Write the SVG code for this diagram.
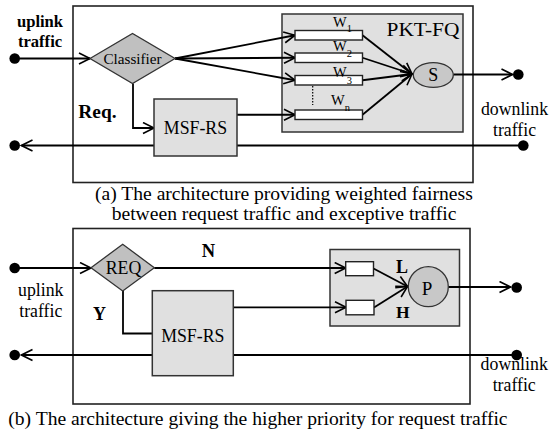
<svg xmlns="http://www.w3.org/2000/svg" width="550" height="434" viewBox="0 0 550 434">
  <style>
    text { font-family: "Liberation Serif", "Times New Roman", serif; fill: #000; }
    .frame { fill: #fff; stroke: #222; stroke-width: 1.6; }
    .panel { fill: #e0e0e0; stroke: #333; stroke-width: 1.5; }
    .block { fill: #e0e0e0; stroke: #333; stroke-width: 1.5; }
    .decide { fill: #c0c0c0; stroke: #333; stroke-width: 1.3; }
    .sched { fill: #c8c8c8; stroke: #333; stroke-width: 1.3; }
    .queue { fill: #fff; stroke: #222; stroke-width: 1.4; }
    .wire { fill: none; stroke: #000; stroke-width: 1.8; }
    .arr { marker-end: url(#arrow); }
    .dot { fill: #000; }
    .lbl { font-size: 17.8px; text-anchor: middle; }
    .bold { font-weight: bold; }
    .cap { font-size: 19.6px; }
    .w { font-size: 14.5px; }
    .sub { font-size: 10.5px; }
  </style>
  <defs>
    <marker id="arrow" viewBox="0 0 14 14" markerWidth="14" markerHeight="14" refX="12" refY="6.5" orient="auto" markerUnits="userSpaceOnUse">
      <path d="M1,1 L12,6.5 L1,12" fill="none" stroke="#000" stroke-width="1.6"/>
    </marker>
  </defs>

  <!-- (a) weighted fair queueing architecture -->
  <g id="frame-a">
    <rect class="frame" x="73" y="6" width="400" height="176.5"/>
  </g>
  <g id="pkt-fq">
    <rect class="panel" x="282" y="14" width="181" height="118"/>
    <text x="423" y="36" font-size="19.5" text-anchor="middle" textLength="73" lengthAdjust="spacingAndGlyphs">PKT-FQ</text>
  </g>

  <!-- (b) strict priority architecture -->
  <g id="frame-b">
    <rect class="frame" x="73" y="228.5" width="397" height="175.5"/>
  </g>
  <g id="priority-box">
    <rect class="panel" x="330" y="249.5" width="129.5" height="76.5"/>
  </g>

  <g id="connectors">
    <!-- (a) -->
    <line class="wire arr" x1="14.7" y1="58.5" x2="90" y2="58.5"/>
    <line class="wire arr" x1="175" y1="58.5" x2="295" y2="35.25"/>
    <line class="wire arr" x1="175" y1="58.5" x2="295" y2="57.75"/>
    <line class="wire arr" x1="175" y1="58.5" x2="295" y2="80.25"/>
    <path class="wire arr" d="M133,83.5 V128 H154"/>
    <line class="wire arr" x1="237" y1="114.75" x2="295" y2="114.75"/>
    <line class="wire arr" x1="362.5" y1="35.25" x2="412" y2="74"/>
    <line class="wire arr" x1="362.5" y1="57.75" x2="412" y2="74"/>
    <line class="wire arr" x1="362.5" y1="80.25" x2="412" y2="74"/>
    <line class="wire arr" x1="362.5" y1="114.75" x2="412" y2="74"/>
    <line class="wire arr" x1="453.3" y1="74.5" x2="512.5" y2="74.5"/>
    <line class="wire arr" x1="154" y1="145.5" x2="21.5" y2="145.5"/>
    <line class="wire" x1="237" y1="145.5" x2="523.3" y2="145.5"/>
    <line x1="312.7" y1="86" x2="312.7" y2="105" stroke="#000" stroke-width="1.2" stroke-dasharray="1.5,1.5"/>
    <circle class="dot" cx="14.7" cy="58.5" r="5.3"/>
    <circle class="dot" cx="14.7" cy="145.5" r="5.3"/>
    <circle class="dot" cx="518.3" cy="74.5" r="5.3"/>
    <circle class="dot" cx="523.3" cy="145.5" r="5.3"/>
    <!-- (b) -->
    <line class="wire arr" x1="14.7" y1="268" x2="91" y2="268"/>
    <line class="wire arr" x1="154.3" y1="268" x2="345.7" y2="268"/>
    <path class="wire" d="M123,291 V333.5 H152.3"/>
    <line class="wire arr" x1="233.3" y1="307.3" x2="346" y2="307.3"/>
    <line class="wire arr" x1="373.5" y1="268.5" x2="407.5" y2="286.5"/>
    <line class="wire arr" x1="374" y1="307.5" x2="407.5" y2="286.5"/>
    <line class="wire arr" x1="448.3" y1="287" x2="510.5" y2="287"/>
    <line class="wire arr" x1="152.3" y1="355" x2="21.5" y2="355"/>
    <line class="wire" x1="233.3" y1="355" x2="516.7" y2="355"/>
    <circle class="dot" cx="14.7" cy="268" r="5.3"/>
    <circle class="dot" cx="14.7" cy="355" r="5.3"/>
    <circle class="dot" cx="516.7" cy="287.5" r="5.3"/>
    <circle class="dot" cx="516.7" cy="355" r="5.3"/>
  </g>

  <!-- (a) nodes -->
  <g id="classifier">
    <polygon class="decide" points="90,58.5 132.5,33.5 175,58.5 132.5,83.5"/>
    <text x="132.5" y="64" font-size="15.2" text-anchor="middle" fill="#222">Classifier</text>
  </g>
  <g id="msf-rs-a">
    <rect class="block" x="154" y="99" width="83" height="57"/>
    <text class="lbl" x="195.5" y="133.5" font-size="18.2">MSF-RS</text>
  </g>
  <g id="queue-1">
    <rect class="queue" x="295" y="30.5" width="67.5" height="9.5"/>
    <text class="w" x="333" y="27">W<tspan class="sub" dy="5">1</tspan></text>
  </g>
  <g id="queue-2">
    <rect class="queue" x="295" y="53" width="67.5" height="9.5"/>
    <text class="w" x="333" y="51">W<tspan class="sub" dy="6">2</tspan></text>
  </g>
  <g id="queue-3">
    <rect class="queue" x="295" y="75.5" width="67.5" height="9.5"/>
    <text class="w" x="333" y="76.7">W<tspan class="sub" dy="7">3</tspan></text>
  </g>
  <g id="queue-n">
    <rect class="queue" x="295" y="110" width="67.5" height="9.5"/>
    <text class="w" x="331" y="105">W<tspan class="sub" dy="6">n</tspan></text>
  </g>
  <g id="scheduler-s">
    <ellipse class="sched" cx="433.3" cy="75" rx="20" ry="12.4"/>
    <text x="433.3" y="81" font-size="18" text-anchor="middle">S</text>
  </g>
  <g id="labels-a">
    <text class="bold" x="40" y="26.5" font-size="16.6" text-anchor="middle">uplink</text>
    <text class="bold" x="40" y="46.5" font-size="16.6" text-anchor="middle">traffic</text>
    <text class="bold" x="78.3" y="118.3" font-size="19.4">Req.</text>
    <text class="lbl" x="514.5" y="115">downlink</text>
    <text class="lbl" x="514.5" y="136">traffic</text>
  </g>
  <g id="caption-a">
    <text class="cap" x="95" y="200">(a) The architecture providing weighted fairness</text>
    <text class="cap" x="111.7" y="220">between request traffic and exceptive traffic</text>
  </g>

  <!-- (b) nodes -->
  <g id="req">
    <polygon class="decide" points="91,267.7 122.7,244.3 154.3,267.7 122.7,291"/>
    <text x="123.5" y="274.3" font-size="17.8" text-anchor="middle" fill="#222">REQ</text>
  </g>
  <g id="msf-rs-b">
    <rect class="block" x="152.3" y="290.7" width="81" height="85"/>
    <text class="lbl" x="192.8" y="341.7">MSF-RS</text>
  </g>
  <g id="queue-low">
    <rect class="queue" x="345.7" y="261.7" width="27.8" height="14"/>
  </g>
  <g id="queue-high">
    <rect class="queue" x="346" y="300.3" width="28" height="14.5"/>
  </g>
  <g id="scheduler-p">
    <circle class="sched" cx="428.3" cy="286.7" r="20"/>
    <text x="427" y="294.5" font-size="19" text-anchor="middle">P</text>
  </g>
  <g id="labels-b">
    <text class="bold" x="208.5" y="256.7" font-size="18.5" text-anchor="middle">N</text>
    <text class="bold" x="99.5" y="320" font-size="18" text-anchor="middle">Y</text>
    <text class="bold" x="396" y="273.3" font-size="18">L</text>
    <text class="bold" x="396" y="318.3" font-size="17.5">H</text>
    <text class="lbl" x="40.8" y="295.5" font-size="17.6">uplink</text>
    <text class="lbl" x="40.8" y="316.5" font-size="17.6">traffic</text>
    <text class="lbl" x="514.2" y="369.5">downlink</text>
    <text class="lbl" x="514.2" y="391">traffic</text>
  </g>
  <g id="caption-b">
    <text class="cap" x="8.3" y="425">(b) The architecture giving the higher priority for request traffic</text>
  </g>
</svg>
